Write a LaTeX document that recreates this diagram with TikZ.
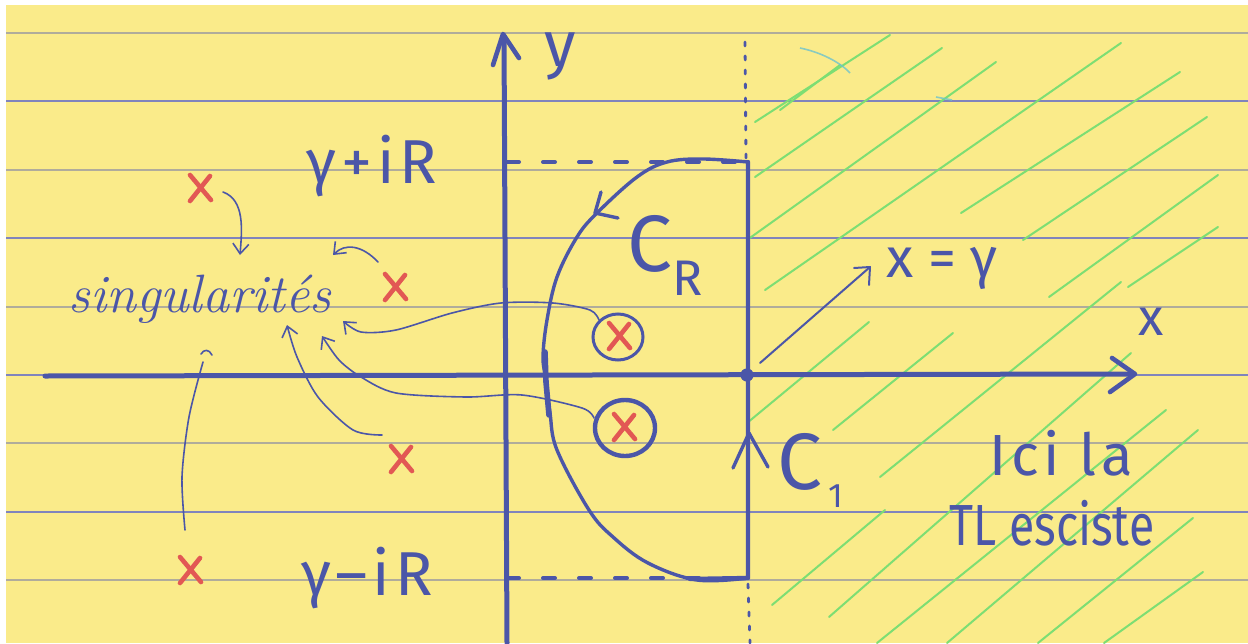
\documentclass[tikz,border=0pt]{standalone}
\usepackage{fontspec}
\newfontfamily\hand{Fira Sans}
\newfontfamily\handwide{Fira Sans}[LetterSpace=8]
\usetikzlibrary{arrows.meta}
\definecolor{paper}{RGB}{250,235,138}
\definecolor{ink}{RGB}{75,86,168}
\definecolor{redink}{RGB}{226,88,84}
\definecolor{hatch}{RGB}{125,222,115}
\definecolor{rulegray}{RGB}{176,172,155}
\definecolor{ruleblue}{RGB}{128,132,188}
\definecolor{cyanink}{RGB}{110,195,205}
\newcommand\fsz[1]{\fontsize{#1}{#1}\selectfont}
\begin{document}
\begin{tikzpicture}[x=0.5pt,y=-0.5pt,
  inkthick/.style={draw=ink,line width=2.2pt,line cap=round,line join=round},
  inkmid/.style={draw=ink,line width=1.7pt,line cap=round,line join=round},
  thinarrow/.style={draw=ink,line width=0.8pt,line cap=round,-{Straight Barb[length=5pt,width=8pt]}},
  thinline/.style={draw=ink,line width=0.8pt,line cap=round},
  lbl/.style={text=ink,inner sep=0pt},
  hatchline/.style={draw=hatch,line width=1pt,line cap=round},
  ruleA/.style={draw=rulegray,line width=1pt},
  ruleB/.style={draw=ruleblue,line width=1pt},
  redx/.pic={\draw[redink,line width=2.3pt,line cap=round] (-10,-13) -- (11,12);
             \draw[redink,line width=2.3pt,line cap=round] (10,-12) -- (-10,13);}]
\useasboundingbox (0,0) rectangle (1248,643);
\fill[white] (0,0) rectangle (1248,643);
\fill[paper] (6,5) rectangle (1248,643);
% ruled lines
\foreach \yy in {33,170,307,443,580} \draw[ruleA] (6,\yy) -- (1248,\yy);
\foreach \yy in {101,238,375,512} \draw[ruleB] (6,\yy) -- (1248,\yy);
% hatching
\foreach \a/\b/\c/\d in {755/122/890/35, 780/110/840/65, 755/177/942/48, 747/240/996/62,
  765/290/1121/43, 961/213/1180/72, 1023/240/1207/117, 1049/297/1218/175, 1128/287/1218/227,
  747/423/869/322, 833/430/953/333, 880/477/1121/282, 772/605/885/510, 829/617/1131/353,
  877/643/1166/410, 947/643/1198/430, 1038/643/1193/518, 1104/643/1203/572}
  \draw[hatchline] (\a,\b) -- (\c,\d);
\draw[cyanink,line width=0.8pt,opacity=0.8] (800,48) .. controls (820,52) and (840,62) .. (850,73);
\draw[cyanink,line width=0.8pt,opacity=0.8] (936,97) -- (952,100);
% axes
\draw[inkthick,line width=2.5pt] (507,643) -- (504,36);
\draw[inkthick,line width=2.3pt] (493,65) -- (503,34) -- (519,58);
\draw[inkthick,line width=2.5pt] (45,376) -- (1133,374);
\draw[inkthick,line width=2.3pt] (1112,358) -- (1135,374) -- (1110,392);
\node[lbl,font=\hand\fsz{32}] (ylab) at (560,56) {y};
\node[lbl,font=\hand\fsz{26}] (xlab) at (1151,322) {x};
% dotted vertical x = gamma
\draw[ink,line width=1.4pt,dash pattern=on 2pt off 5pt,line cap=round] (745,42) -- (746,158);
\draw[ink,line width=1.4pt,dash pattern=on 2pt off 5pt,line cap=round] (748,584) -- (750,643);
% dashed levels
\draw[ink,line width=2pt,dash pattern=on 6pt off 12pt,line cap=round] (507,162) -- (748,162);
\draw[ink,line width=2pt,dash pattern=on 6pt off 12pt,line cap=round] (507,578) -- (700,578);
% C_1 segment
\draw[inkthick] (748,162) -- (748,578) -- (690,579);
\draw[inkmid] (733,468) -- (749,433) -- (768,467);
\fill[ink] (747,375) circle[radius=3.3pt];
% C_R curve
\draw[inkmid] plot[smooth,tension=0.6] coordinates {(748,162) (703,159) (667,162) (637,177) (597,213) (577,237) (557,277) (547,320) (543,357) (546,380) (550,413) (557,450) (589,510) (613,537) (648,563) (697,580) (748,578)};
\draw[ink,line width=2.8pt,line cap=round] (545,352) -- (546,382) -- (549,415);
\draw[inkmid] (601,192) -- (595,213) -- (618,218);
% labels
\node[lbl,font=\handwide\fsz{31}] (gplus) at (372,166) {γ+iR};
\node[lbl,font=\handwide\fsz{31}] (gminus) at (367,578) {γ–iR};
\node[lbl,font=\hand] (cr) at (665,255) {{\fsz{40}C}\raisebox{-12pt}{\fsz{25}R}};
\node[lbl,font=\hand] (c1) at (810,470) {{\fsz{40}C}\hspace{3pt}\raisebox{-9pt}{\fsz{17}1}};
\node[lbl,font=\hand\fsz{28}] (xg) at (942,268) {x = γ};
\node[lbl,font=\handwide\fsz{29}] (ici) at (1061,453) {Ici la};
\node[lbl,font=\hand\fsz{29},xscale=0.8] (tl) at (1052,523) {TL esciste};
\coordinate (dot) at (760,363);
\coordinate (hook) at (870,267);
\draw[ink,line width=1pt,line cap=round] (dot) -- (hook);
\draw[ink,line width=1pt,line cap=round,line join=round] (854,268) -- (870,267) -- (869,285);
% singularities
\node[text=ink,inner sep=0pt,font=\itshape\fsz{27}] (sing) at (200,299) {singularités};
\pic (s1) at (200,188) {redx};
\pic (s2) at (395,287) {redx};
\pic (s3) at (401,459) {redx};
\pic (s4) at (190,570) {redx};
\pic (s5) at (619,336) {redx};
\pic (s6) at (624,427) {redx};
\draw[ink,line width=1.5pt] (618,337) circle[x radius=12.5pt,y radius=11.5pt];
\draw[ink,line width=2.2pt] (625,428) circle[x radius=15pt,y radius=14pt];
% arrows to the word
\draw[thinarrow] (223,192) .. controls (245,200) and (242,230) .. (240,255);
\draw[thinarrow] (378,262) .. controls (362,245) and (345,243) .. (333,255);
\draw[thinarrow] plot[smooth] coordinates {(599,320) (590,310) (553,303) (501,303) (452,313) (396,330) (361,332) (343,321)};
\draw[thinarrow] plot[smooth] coordinates {(594,418) (582,408) (522,395) (466,397) (396,393) (361,377) (339,360) (322,336)};
\draw[thinarrow] plot[smooth] coordinates {(382,435) (353,430) (318,397) (297,357) (287,325)};
\draw[thinline] plot[smooth] coordinates {(185,530) (182,477) (189,417) (203,362)};
\draw[thinline] (201,354) .. controls (204,349) and (209,349) .. (212,355);
\end{tikzpicture}
\end{document}
